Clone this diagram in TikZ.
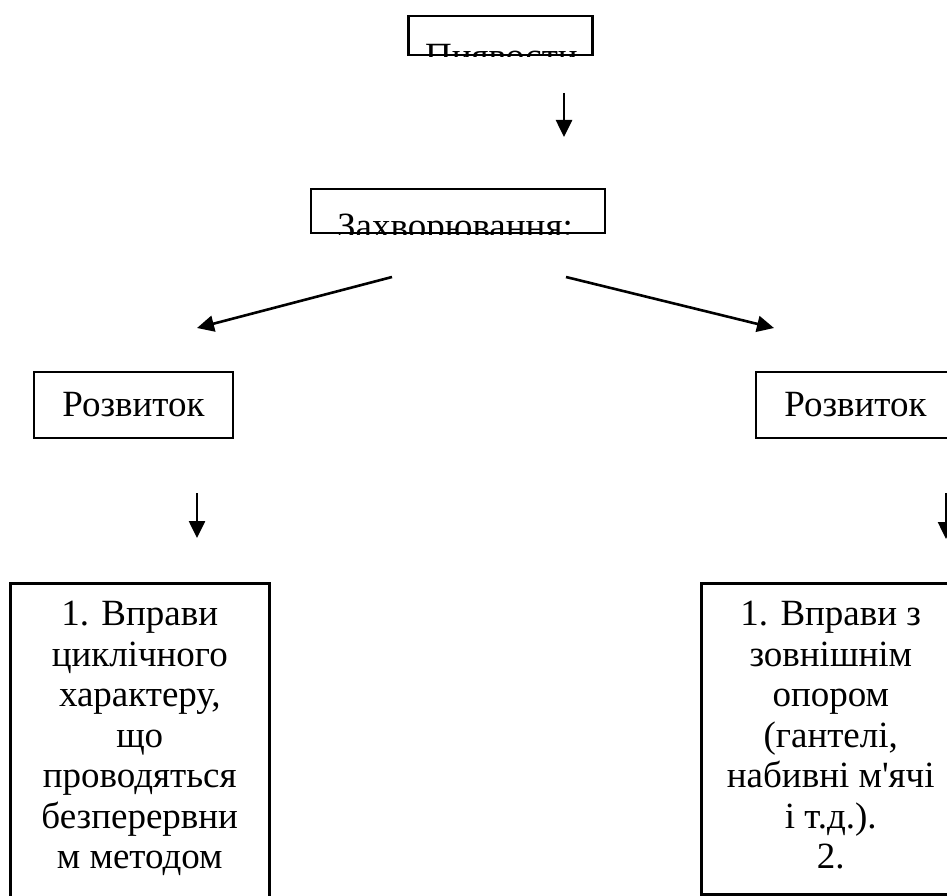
\documentclass[tikz,border=0pt]{standalone}
\usepackage{fontspec}
\setmainfont{Liberation Serif}[Ligatures=TeXOff]
\usetikzlibrary{arrows.meta}
\tikzset{
every node/.style=
    {font=\fontsize{37}{40.5}\selectfont,
    inner sep=0pt,
    align=center
    },
box/.style=
    {draw,
    line width=2.5pt
    },
arr/.style=
    {line width=2.6pt,
    -{Triangle[width=16pt,length=17pt]}
    }}
\begin{document}
\begin{tikzpicture}[x=1pt,y=-1pt]
\clip (0,0) rectangle (947,896);
\node[box,minimum width=184pt,minimum height=39pt] (dyt) at (500.5,35.5) {};
\begin{scope}
\clip (dyt.south west) rectangle (dyt.north east);
\node[anchor=base] (dyttext) at ([xshift=1pt,yshift=-12pt]dyt.south) {Пиявости};
\end{scope}
\node[box,minimum width=294pt,minimum height=44pt] (zakh) at (458,211) {};
\begin{scope}
\clip (zakh.south west) rectangle (zakh.north east);
\node[anchor=base] (zakhtext) at ([xshift=-3pt,yshift=-4pt]zakh.south) {Захворювання:};
\end{scope}
\node[box,minimum width=199pt,minimum height=66pt] (rozl) at (133.5,405) {Розвиток};
\node[box,minimum width=199pt,minimum height=66pt] (rozr) at (855.5,405) {Розвиток};
\node[box,minimum width=259pt,minimum height=340pt,anchor=north west] (vprl) at (9,582) {};
\node[anchor=north] (vprltext) at ([yshift=-19pt]vprl.north)
    {1. Вправи\\циклічного\\характеру,\\що\\проводяться\\безперервни\\м методом};
\node[box,minimum width=259pt,minimum height=311pt,anchor=north west] (vprr) at (700,582) {};
\node[anchor=north] (vprrtext) at ([yshift=-19pt]vprr.north)
    {1. Вправи з\\зовнішнім\\опором\\(гантелі,\\набивні м'ячі\\і т.д.).\\2.};
\coordinate (a1) at (564,93);
\coordinate (b1) at (564,137);
\coordinate (a2) at (392,277);
\coordinate (b2) at (197,328);
\coordinate (a3) at (566,277);
\coordinate (b3) at (774,328);
\coordinate (a4) at (197,493);
\coordinate (b4) at (197,538);
\coordinate (a5) at (946,493);
\coordinate (b5) at (946,539);
\draw[arr] (a1) -- (b1);
\draw[arr] (a2) -- (b2);
\draw[arr] (a3) -- (b3);
\draw[arr] (a4) -- (b4);
\draw[arr] (a5) -- (b5);
\end{tikzpicture}
\end{document}
